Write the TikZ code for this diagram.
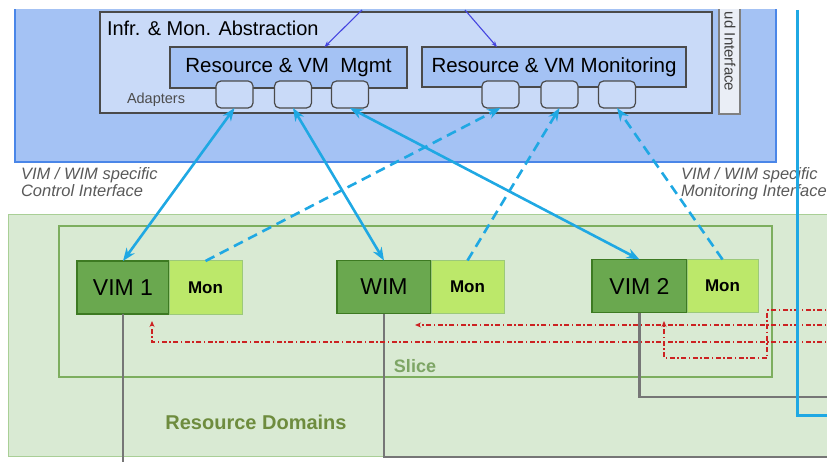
\documentclass[tikz,border=0pt]{standalone}
\usepackage{fontspec}
\setmainfont{Liberation Sans}
\usetikzlibrary{arrows.meta}
\definecolor{outerblue}{HTML}{A4C2F4}
\definecolor{outerline}{HTML}{4A86E8}
\definecolor{paleblue}{HTML}{C9DAF8}
\definecolor{boxline}{HTML}{4A4A4A}
\definecolor{cmdblue}{HTML}{4545E0}
\definecolor{ifcyan}{HTML}{1FA8E3}
\definecolor{domfill}{HTML}{D9EAD3}
\definecolor{domline}{HTML}{A9CF96}
\definecolor{sliceline}{HTML}{7DAE5E}
\definecolor{vimfill}{HTML}{6AA84F}
\definecolor{vimline}{HTML}{3D7A22}
\definecolor{monfill}{HTML}{BCE86A}
\definecolor{monline}{HTML}{9CC97A}
\definecolor{linkgray}{HTML}{767676}
\definecolor{sigred}{HTML}{CC2222}
\definecolor{domtext}{HTML}{6E8C3E}
\newcommand{\txtsize}[1]{\fontsize{#1}{#1}\selectfont}
\tikzset{
	every node/.style={inner sep=0pt, outer sep=0pt},
	layerbox/.style={draw=boxline, line width=1.2pt, fill=paleblue},
	funcbox/.style={draw=boxline, line width=1.2pt, fill=outerblue, font=\txtsize{20.5}},
	adapter/.style={draw=boxline, line width=1.2pt, fill=paleblue, rounded corners=5pt, minimum width=37pt, minimum height=27pt},
	vimbox/.style={draw=vimline, line width=1.2pt, fill=vimfill, minimum height=53pt, font=\txtsize{23}},
	monbox/.style={draw=monline, line width=1pt, fill=monfill, minimum height=53pt, font=\bfseries\txtsize{17}},
	ctrl/.style={draw=ifcyan, line width=2.6pt, {Stealth[length=13pt,width=10pt]}-{Stealth[length=13pt,width=10pt]}},
	monlink/.style={draw=ifcyan, line width=2.6pt, dash pattern=on 10pt off 6pt, -{Stealth[length=13pt,width=10pt]}},
	cmd/.style={draw=cmdblue, line width=1.1pt, -{Stealth[length=6pt,width=4.5pt]}},
	link/.style={draw=linkgray, line width=2.4pt},
	sig/.style={draw=sigred, line width=1.1pt, dash pattern=on 5pt off 2.5pt on 1.5pt off 2.5pt},
	iflabel/.style={align=left, anchor=north west, text=gray!70!black, font=\itshape\txtsize{16.5}}
}

\begin{document}
\begin{tikzpicture}[x=1pt,y=-1pt]
\useasboundingbox (0,0) rectangle (827,462);
\clip (0,10) rectangle (827,462);
% resource domains and slice
\node (domains) [draw=domline, line width=1pt, fill=domfill, minimum width=832pt, minimum height=241pt] at (424,335.5) {};
\node (slice) [draw=sliceline, line width=1.2pt, fill=domfill, minimum width=713pt, minimum height=151pt] at (415.5,301.5) {};
\node (slicetxt) [font=\bfseries\txtsize{18}, text=sliceline!80!gray] at (415,366) {Slice};
\node (domtxt) [font=\bfseries\txtsize{20}, text=domtext] at (256,422) {Resource Domains};

\node (vim1) [vimbox, minimum width=92pt] at (123,287.5) {VIM 1};
\node (mon1) [monbox, minimum width=73pt] at (205.5,287.5) {Mon};
\node (wim) [vimbox, minimum width=94pt] at (384,287) {WIM};
\node (mon2) [monbox, minimum width=73pt] at (467.5,287) {Mon};
\node (vim2) [vimbox, minimum width=95pt] at (639.5,286) {VIM 2};
\node (mon3) [monbox, minimum width=71pt] at (722.5,286) {Mon};

% links down to the domains
\coordinate (down1) at (123,470);
\coordinate (down2) at (845,457);
\coordinate (down3) at (845,397);
\draw[link] (vim1.south) -- (down1);
\draw[link] (wim.south) |- (down2);
\draw[link] (vim2.south) |- (down3);

% slice signalling
\draw[sig, -{Stealth[length=6pt,width=5pt]}] (845,342) -- (152,342) -- (152,321);
\draw[sig, -{Stealth[length=6pt,width=5pt]}] (845,325) -- (415,325);
\draw[sig, -{Stealth[length=6pt,width=5pt]}] (845,310) -- (767,310) -- (767,358) -- (664,358) -- (664,321);

% orchestrator layer
\node (orch) [draw=outerline, line width=2.5pt, fill=outerblue, minimum width=761pt, minimum height=182pt] at (395.5,71) {};
\node (abst) [layerbox, minimum width=612pt, minimum height=101pt] at (406,62.5) {};
\node (absttxt) [anchor=west, font=\txtsize{20}] at (107,28) {Infr. \& Mon. Abstraction};
\node (cloud) [layerbox, draw=gray, fill=paleblue!80!gray!30!white, minimum width=21pt, minimum height=119pt] at (729.5,54.5) {};
\node (cloudtxt) [rotate=-90, anchor=west, font=\txtsize{15}, text=black!75] at (730,12) {ud Interface};

\node (mgmt) [funcbox, minimum width=237pt, minimum height=41pt] at (288.5,67.5) {Resource \& VM\ \ Mgmt};
\node (moni) [funcbox, minimum width=264pt, minimum height=40pt] at (554,67) {Resource \& VM Monitoring};
\node (adtxt) [anchor=west, font=\txtsize{14.5}, text=black!70] at (127,100) {Adapters};

\node (a1) [adapter] at (234.5,94.5) {};
\node (a2) [adapter] at (293,94.5) {};
\node (a3) [adapter] at (350,94.5) {};
\node (m1) [adapter] at (500.5,94.5) {};
\node (m2) [adapter] at (559.5,94.5) {};
\node (m3) [adapter] at (617,94.5) {};

\coordinate (in1) at (362,10);
\coordinate (in2) at (465,10);
\draw[cmd] (in1) -- ([xshift=36pt]mgmt.north);
\draw[cmd] (in2) -- ([xshift=-57pt]moni.north);

% control and monitoring interfaces
\draw[ctrl] (a1.south) -- (vim1.north);
\draw[ctrl] (a2.south) -- (wim.north);
\draw[ctrl] (a3.south) -- (vim2.north);
\draw[monlink] (mon1.north) -- (m1.south);
\draw[monlink] (mon2.north) -- (m2.south);
\draw[monlink] (mon3.north) -- (m3.south);

\node (ctrltxt) [iflabel] at (21,168) {VIM / WIM specific\\Control Interface};
\node (montxt) [iflabel] at (681,168) {VIM / WIM specific\\Monitoring Interface};

% cloud interface link
\coordinate (cl1) at (797,10);
\coordinate (cl2) at (845,415);
\draw[draw=ifcyan, line width=3pt] (cl1) |- (cl2);
\end{tikzpicture}
\end{document}
